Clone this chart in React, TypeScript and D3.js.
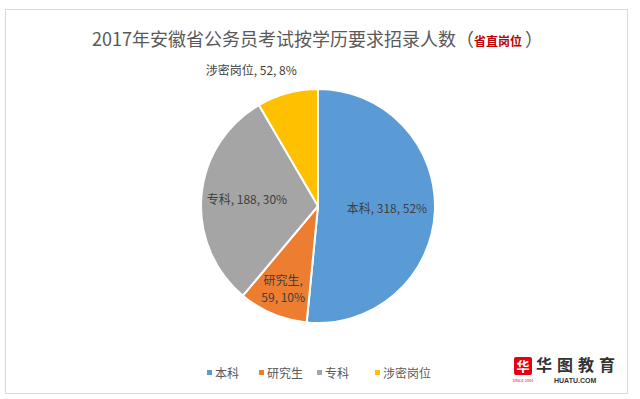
import React from 'react';
import * as d3 from 'd3';

const categories = ['本科', '研究生', '专科', '涉密岗位'];
const counts = [318, 59, 188, 52];
const percents = ['52%', '10%', '30%', '8%'];
const colors = ['#5B9BD5', '#ED7D31', '#A5A5A5', '#FFC000'];

// label placement per slice: radius factor of centroid + small nudges
const labelRf = [0.59, 0.77, 0.61, 1.2];
const labelNudge: [number, number][] = [[0, 0], [0, 0], [0, 0], [-30, 0]];

const W = 640;
const H = 399;
const cx = 318;
const cy = 206;
const R = 117;
const font = '"Noto Sans CJK SC", "Noto Sans", sans-serif';

interface Slice {
  name: string;
  value: number;
  pct: string;
  color: string;
}

const slices: Slice[] = categories.map((name, i) => ({
  name,
  value: counts[i],
  pct: percents[i],
  color: colors[i],
}));

const App: React.FC = () => {
  const pie = d3.pie<Slice>().sort(null).value(d => d.value);
  const arcs = pie(slices);
  const arc = d3.arc<d3.PieArcDatum<Slice>>().innerRadius(0).outerRadius(R);

  const legendX = [207, 259, 317, 375];

  return (
    <svg width={W} height={H} style={{ position: 'absolute', left: 0, top: 0, background: '#fff' }}>
      <rect x={5.5} y={9.5} width={622} height={384} fill="#fff" stroke="#d9d9d9" strokeWidth={1} />

      <text x={92} y={46} fontFamily={font} fontSize={18} fill="#595959">
        2017年安徽省公务员考试按学历要求招录人数（
        <tspan fontSize={12} fill="#C00000" fontWeight="bold">省直岗位</tspan>
        <tspan dx={3}>）</tspan>
      </text>

      <g transform={`translate(${cx},${cy})`}>
        {arcs.map((a, i) => (
          <path key={i} d={arc(a) || ''} fill={a.data.color} stroke="#fff" strokeWidth={2} strokeLinejoin="round" />
        ))}
        {arcs.map((a, i) => {
          const mid = (a.startAngle + a.endAngle) / 2;
          const r = R * labelRf[i];
          const x = Math.sin(mid) * r + labelNudge[i][0];
          const y = -Math.cos(mid) * r + labelNudge[i][1];
          const d = a.data;
          if (d.name === '研究生') {
            return (
              <text key={i} x={x} y={y} fontFamily={font} fontSize={12} fill="#404040" textAnchor="middle">
                <tspan x={x} dy={-4}>{d.name},</tspan>
                <tspan x={x} dy={17}>{d.value}, {d.pct}</tspan>
              </text>
            );
          }
          return (
            <text key={i} x={x} y={y + 4} fontFamily={font} fontSize={12} fill="#404040" textAnchor="middle">
              {d.name}, {d.value}, {d.pct}
            </text>
          );
        })}
      </g>

      <g>
        {slices.map((d, i) => (
          <g key={i} transform={`translate(${legendX[i]},373)`}>
            <rect x={0} y={-3} width={5} height={5} fill={d.color} />
            <text x={8} y={4.5} fontFamily={font} fontSize={12} fill="#595959">{d.name}</text>
          </g>
        ))}
      </g>

      <g transform="translate(514,357)">
        <rect x={0} y={0} width={18} height={18} rx={2} fill="#E60012" />
        <text x={9} y={14} fontFamily={font} fontSize={13} fontWeight="bold" fill="#fff" textAnchor="middle">华</text>
        <text x={9} y={25} fontFamily={font} fontSize={4} fill="#E60012" textAnchor="middle">SINCE 2001</text>
        <text x={22} y={14} fontFamily={font} fontSize={16} fontWeight="bold" fill="#333" letterSpacing={5}>华图教育</text>
        <text x={40} y={26} fontFamily="Arial, sans-serif" fontSize={7} fontWeight="bold" fill="#333">HUATU.COM</text>
      </g>
    </svg>
  );
};

export default App;
